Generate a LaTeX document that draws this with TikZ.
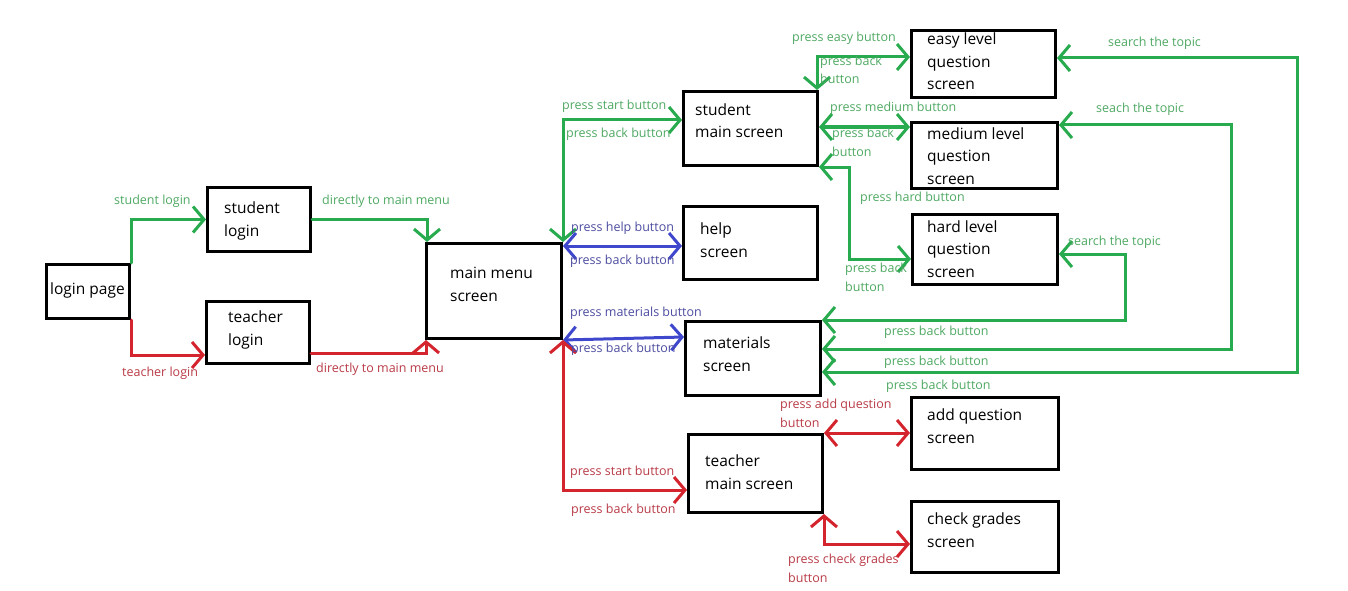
\documentclass[tikz,border=0pt]{standalone}
\usepackage{fontspec}
\setmainfont{Open Sans}
\usetikzlibrary{arrows.meta,calc}
\definecolor{gline}{RGB}{40,170,78}
\definecolor{gtext}{RGB}{78,168,98}
\definecolor{rline}{RGB}{212,36,46}
\definecolor{rtext}{RGB}{184,58,70}
\definecolor{bline}{RGB}{63,72,204}
\definecolor{btext}{RGB}{76,76,160}
\tikzset{
  screen/.style={draw=black, line width=3pt, anchor=north west, inner sep=0pt},
  title/.style={anchor=base west, inner sep=0pt, align=left, font=\fontsize{15.5}{22.5}\selectfont},
  lab/.style={anchor=base west, inner sep=0pt, align=left, font=\fontsize{12.5}{18.5}\selectfont},
  flow/.style={line width=3pt, line cap=round, line join=miter},
  tip/.tip={Straight Barb[length=11pt,width=26pt,line width=3pt]},
  barb/.style={arrows={-tip}},
  dbarb/.style={arrows={tip-tip}},
  gflow/.style={flow, draw=gline},
  rflow/.style={flow, draw=rline},
  bflow/.style={flow, draw=bline},
  glab/.style={lab, text=gtext},
  rlab/.style={lab, text=rtext},
  blab/.style={lab, text=btext},
}
\begin{document}
\begin{tikzpicture}[x=1pt, y=-1pt]
\useasboundingbox (0,0) rectangle (1348,591);

% screens
\node[screen, minimum width=83pt, minimum height=54pt] (login) at (45,263) {};
\node[screen, minimum width=103pt, minimum height=64pt] (slogin) at (206,186) {};
\node[screen, minimum width=103pt, minimum height=62pt] (tlogin) at (205,300) {};
\node[screen, minimum width=135pt, minimum height=95pt] (mm) at (425,242) {};
\node[screen, minimum width=134pt, minimum height=74pt] (smain) at (682,90) {};
\node[screen, minimum width=134pt, minimum height=73pt] (help) at (682,205) {};
\node[screen, minimum width=135pt, minimum height=74pt] (mat) at (684,320) {};
\node[screen, minimum width=134pt, minimum height=78pt] (tmain) at (687,433) {};
\node[screen, minimum width=144pt, minimum height=67pt] (easy) at (910,29) {};
\node[screen, minimum width=146pt, minimum height=66pt] (med) at (910,121) {};
\node[screen, minimum width=145pt, minimum height=70pt] (hard) at (911,213) {};
\node[screen, minimum width=147pt, minimum height=72pt] (addq) at (910,396) {};
\node[screen, minimum width=147pt, minimum height=71pt] (chk) at (910,500) {};

% screen titles (anchored at the baseline of their last line)
\node[title] (loginT) at (50,294) {login page};
\node[title] (sloginT) at (224,236) {student\\login};
\node[title] (tloginT) at (228,345) {teacher\\login};
\node[title] (mmT) at (450,301) {main menu\\screen};
\node[title] (smainT) at (695,138) {student\\main screen};
\node[title] (helpT) at (700,257) {help\\screen};
\node[title] (matT) at (703,371) {materials\\screen};
\node[title] (tmainT) at (705,489) {teacher\\main screen};
\node[title] (easyT) at (927,90) {easy level\\question\\screen};
\node[title] (medT) at (927,184) {medium level\\question\\screen};
\node[title] (hardT) at (927,277) {hard level\\question\\screen};
\node[title] (addqT) at (927,443) {add question\\screen};
\node[title] (chkT) at (927,547) {check grades\\screen};

% login flow
\draw[gflow, barb] (login.north east) |- (slogin.west);
\draw[rflow, barb] (login.south east) |- ($(tlogin.south west)+(0,-10)$);
\draw[gflow, barb] (slogin.east) -| ($(mm.north west)+(2,0)$);
\draw[rflow, barb] ($(tlogin.south east)+(0,-12)$) -| ($(mm.south west)+(1,0)$);

% main menu flow
\draw[gflow, dbarb] (mm.north east) |- ($(smain.north west)+(0,30)$);
\draw[bflow, dbarb] ($(mm.north east)+(0,4)$) -- ($(help.north west)+(0,41)$);
\draw[bflow, dbarb] (mm.south east) -- ($(mat.north west)+(0,17)$);
\draw[rflow, dbarb] (mm.south east) |- ($(tmain.south west)+(0,-24)$);

% student flow
\draw[gflow, dbarb] ($(smain.north east)+(-2,0)$) |- ($(easy.north west)+(0,28)$);
\draw[gflow, dbarb] ($(smain.north east)+(0,37)$) -- ($(med.north west)+(0,6)$);
\draw[gflow, dbarb] (smain.south east) -- ($(smain.south east)+(30,0)$) |- ($(hard.north west)+(0,46)$);

% search the topic
\draw[gflow, dbarb] ($(hard.north east)+(0,41)$) -| ($(mat.north east)+(303,0)$) -- (mat.north east);
\draw[gflow, dbarb] ($(med.north east)+(0,4)$) -| ($(mat.north east)+(409,29)$) -- ($(mat.north east)+(0,29)$);
\draw[gflow, dbarb] ($(easy.north east)+(0,29)$) -| ($(mat.north east)+(475,52)$) -- ($(mat.north east)+(0,52)$);

% teacher flow
\draw[rflow, dbarb] (tmain.north east) -- (addq.north west |- tmain.north east);
\draw[rflow, dbarb] (tmain.south east) |- ($(chk.north west)+(0,44)$);

% labels (anchored at the baseline of their last line)
\node[glab] (l1) at (114,204) {student login};
\node[rlab] (l2) at (122,376) {teacher login};
\node[glab] (l3) at (322,204) {directly to main menu};
\node[rlab] (l4) at (316,372) {directly to main menu};
\node[glab] (l5) at (562,110) {press start button};
\node[glab] (l6) at (566,138) {press back button};
\node[blab] (l7) at (571,231) {press help button};
\node[blab] (l8) at (570,264) {press back button};
\node[blab] (l9) at (570,316) {press materials button};
\node[blab] (l10) at (571,352) {press back button};
\node[rlab] (l11) at (570,475) {press start button};
\node[rlab] (l12) at (571,513) {press back button};
\node[glab] (l13) at (792,42) {press easy button};
\node[glab] (l14) at (820,84) {press back\\button};
\node[glab] (l15) at (830,111) {press medium button};
\node[glab] (l16) at (832,156) {press back\\button};
\node[glab] (l17) at (860,201) {press hard button};
\node[glab] (l18) at (845,291) {press back\\button};
\node[glab] (l19) at (1108,47) {search the topic};
\node[glab] (l20) at (1096,113) {seach the topic};
\node[glab] (l21) at (1068,245) {search the topic};
\node[glab] (l22) at (884,335) {press back button};
\node[glab] (l23) at (884,365) {press back button};
\node[glab] (l24) at (886,389) {press back button};
\node[rlab] (l25) at (780,427) {press add question\\button};
\node[rlab] (l26) at (788,582) {press check grades\\button};
\end{tikzpicture}
\end{document}
